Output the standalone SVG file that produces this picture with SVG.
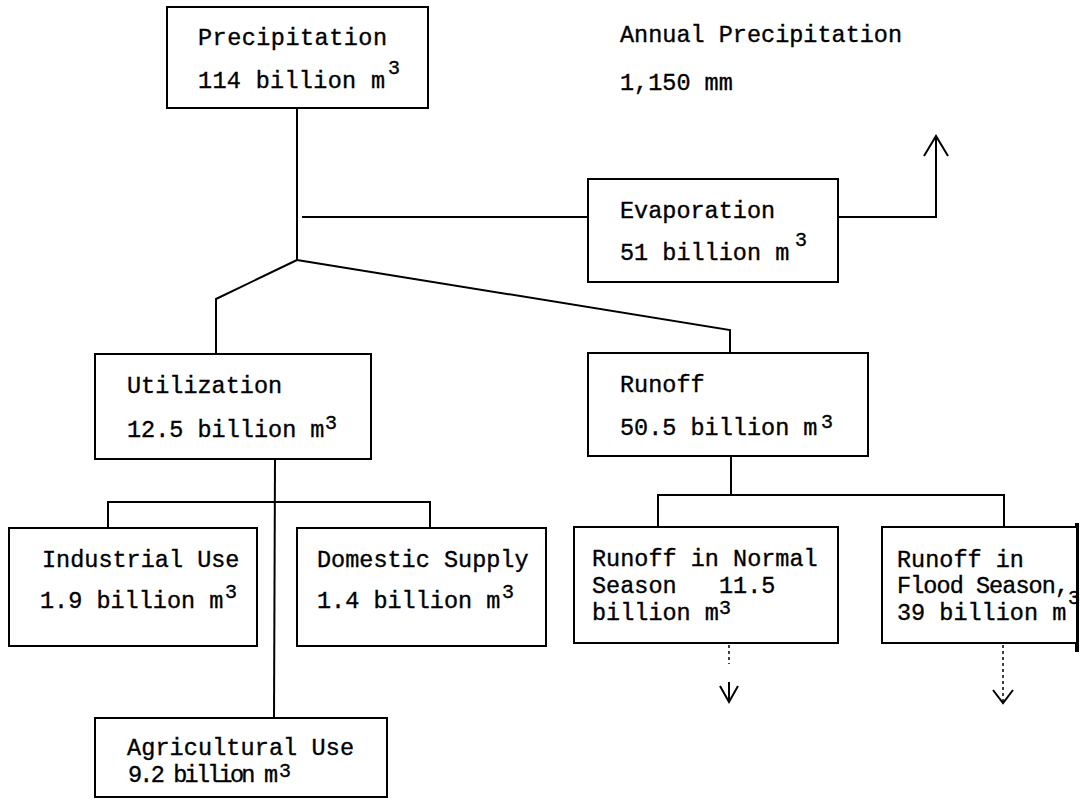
<svg xmlns="http://www.w3.org/2000/svg" width="1080" height="805" viewBox="0 0 1080 805">
  <style>
    .box { fill: #ffffff; stroke: #000; stroke-width: 2; }
    .ln { fill: none; stroke: #000; stroke-width: 2; }
    .dot { fill: none; stroke: #000; stroke-width: 1.5; stroke-dasharray: 3 3; }
    .t { font-family: "Liberation Mono", "DejaVu Sans Mono", monospace; font-size: 23.5px; fill: #000; stroke: #000; stroke-width: 0.35; white-space: pre; }
    .s { font-family: "Liberation Mono", "DejaVu Sans Mono", monospace; font-size: 20px; fill: #000; stroke: #000; stroke-width: 0.3; }
  </style>
  <rect width="1080" height="805" fill="#ffffff"/>

  <g id="connectors">
    <polyline class="ln" points="297,108 297,260"/>
    <polyline class="ln" points="302,217 588,217"/>
    <polyline class="ln" points="838,217 936,217 936,137"/>
    <polyline class="ln" points="924,156 936,136 948,156"/>
    <polyline class="ln" points="297,260 216,299 216,354"/>
    <polyline class="ln" points="297,260 730,330 730,353"/>
    <polyline class="ln" points="275,459 274,718"/>
    <polyline class="ln" points="108,533 108,502 430,502 430,533"/>
    <polyline class="ln" points="731,456 731,495"/>
    <polyline class="ln" points="658,527 658,495 1004,495 1004,527"/>
    <polyline class="dot" points="729,645 729,664"/>
    <polyline class="ln" points="729,682 729,702"/>
    <polyline class="ln" points="720,686 729,702 738,686"/>
    <polyline class="dot" points="1003,645 1003,702"/>
    <polyline class="ln" points="993,690 1003,703 1013,690"/>
    <line x1="1077" y1="523" x2="1077" y2="652" stroke="#000" stroke-width="4"/>
  </g>

  <g id="precipitation">
    <rect class="box" x="167" y="7" width="261" height="101"/>
    <text class="t" x="198" y="45" textLength="189">Precipitation</text>
    <text class="t" x="198" y="88" textLength="187">114 billion m</text>
    <text class="s" x="388" y="74">3</text>
  </g>

  <g id="annual">
    <text class="t" x="620" y="42">Annual Precipitation</text>
    <text class="t" x="620" y="90">1,150 mm</text>
  </g>

  <g id="evaporation">
    <rect class="box" x="588" y="179" width="250" height="103"/>
    <text class="t" x="620" y="218">Evaporation</text>
    <text class="t" x="620" y="260">51 billion m</text>
    <text class="s" x="795" y="246">3</text>
  </g>

  <g id="utilization">
    <rect class="box" x="95" y="354" width="276" height="105"/>
    <text class="t" x="127" y="393">Utilization</text>
    <text class="t" x="127" y="437">12.5 billion m</text>
    <text class="s" x="325" y="429">3</text>
  </g>

  <g id="runoff">
    <rect class="box" x="588" y="353" width="280" height="103"/>
    <text class="t" x="620" y="392">Runoff</text>
    <text class="t" x="620" y="435">50.5 billion m</text>
    <text class="s" x="821" y="428">3</text>
  </g>

  <g id="industrial">
    <rect class="box" x="9" y="528" width="248" height="118"/>
    <text class="t" x="42" y="567">Industrial Use</text>
    <text class="t" x="40" y="608">1.9 billion m</text>
    <text class="s" x="225" y="598">3</text>
  </g>

  <g id="domestic">
    <rect class="box" x="297" y="528" width="249" height="118"/>
    <text class="t" x="317" y="567">Domestic Supply</text>
    <text class="t" x="317" y="608">1.4 billion m</text>
    <text class="s" x="502" y="598">3</text>
  </g>

  <g id="agricultural">
    <rect class="box" x="95" y="718" width="292" height="79"/>
    <text class="t" x="127" y="755" textLength="227">Agricultural Use</text>
    <text class="t" x="128" y="782" textLength="150">9.2 billion m</text>
    <text class="s" x="279" y="777">3</text>
  </g>

  <g id="normal">
    <rect class="box" x="574" y="527" width="264" height="116"/>
    <text class="t" x="592" y="566">Runoff in Normal</text>
    <text class="t" x="592" y="593">Season   11.5</text>
    <text class="t" x="592" y="620">billion m</text>
    <text class="s" x="719" y="614" font-size="17">3</text>
  </g>

  <g id="flood">
    <rect class="box" x="882" y="527" width="195" height="116"/>
    <text class="t" x="897" y="567">Runoff in</text>
    <text class="t" x="897" y="593" textLength="172">Flood Season,</text>
    <text class="t" x="897" y="620">39 billion m</text>
    <text class="s" x="1068" y="604" font-size="13">3</text>
  </g>
</svg>
